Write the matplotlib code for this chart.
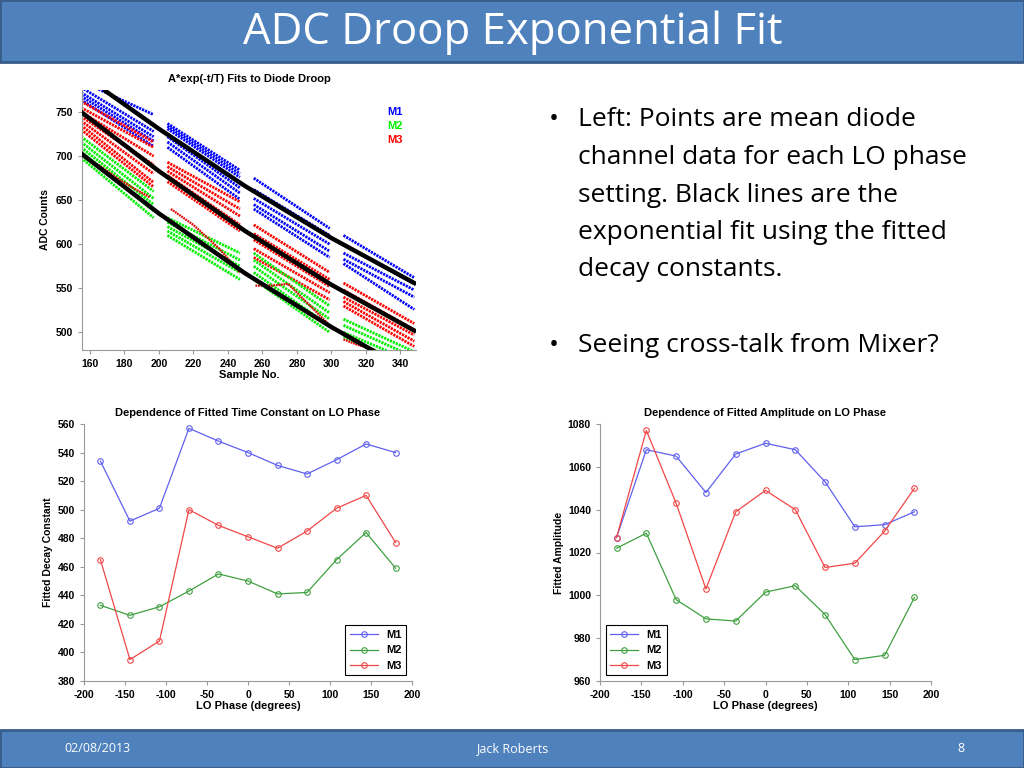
import numpy as np
import matplotlib
matplotlib.use("Agg")
import matplotlib.pyplot as plt
from matplotlib.patches import Rectangle

plt.rcParams["axes.unicode_minus"] = False

W, H = 1024, 768

# ---- top plot: mean diode data per LO phase, four sample blocks ----
block_x = [(155, 197), (205, 247), (255, 299), (307, 348)]

m1_start = [[785, 778, 772, 768, 764],
            [737, 734, 731, 722, 716, 710],
            [675, 662, 652, 645, 640],
            [610, 600, 590, 583, 578]]
m1_end = [[747, 728, 722, 717, 711],
          [684, 680, 676, 664, 658, 651],
          [618, 610, 600, 592, 585],
          [562, 555, 548, 540, 526]]

m2_start = [[722, 716, 710, 705, 698],
            [630, 625, 620, 615, 610],
            [590, 582, 575, 568, 560],
            [515, 508, 500, 495]]
m2_end = [[660, 652, 645, 638, 630],
          [590, 582, 575, 568, 560],
          [530, 522, 515, 507, 500],
          [478, 472, 466, 460]]

m3_start = [[762, 755, 750, 745, 740, 735, 730],
            [693, 688, 683, 678, 671],
            [622, 612, 605, 595, 585],
            [556, 548, 540, 535, 530]]
m3_end = [[716, 710, 700, 690, 680, 670, 665],
          [648, 640, 632, 622, 615],
          [568, 560, 552, 545, 537],
          [510, 503, 497, 490, 484]]

# the low M3 traces that sit among the M2 points
m3_low_x = [[165, 175, 185, 195], [207, 220, 235, 247], [256, 265, 275, 298], [307, 315, 325]]
m3_low_y = [[690, 676, 664, 653], [640, 622, 595, 568], [553, 553, 555, 510], [492, 486, 480]]

# fitted exponential curves
fit_x = [[169, 200, 250, 300, 348], [155, 200, 250, 300, 348], [155, 200, 250, 300, 348]]
fit_y = [[774, 731, 666, 607, 556], [750, 683, 615, 554, 502], [703, 635, 567, 506, 453]]

# ---- bottom plots ----
phase = [-180, -144, -108, -72, -36, 0, 36, 72, 108, 144, 180]
tau_m1 = [534, 492, 501, 557, 548, 540, 531, 525, 535, 546, 540]
tau_m2 = [433, 426, 432, 443, 455, 450, 441, 442, 465, 484, 459]
tau_m3 = [465, 395, 408, 500, 489, 481, 473, 485, 501, 510, 477]
amp_m1 = [1027, 1068, 1065, 1048, 1066, 1071, 1068, 1053, 1032, 1033, 1039]
amp_m2 = [1022, 1029, 998, 989, 988, 1001.5, 1004.5, 991, 970, 972, 999]
amp_m3 = [1027, 1077, 1043, 1003, 1039, 1049, 1040, 1013, 1015, 1030, 1050]

BLUE, GREEN, RED = "#0000ff", "#00ee00", "#ff0000"
LBLUE, LGREEN, LRED = "#6060f0", "#40a040", "#f04848"
mfont = "Liberation Sans"


def rect(l, t, r, b):
    return [l / W, 1 - b / H, (r - l) / W, (b - t) / H]


fig = plt.figure(figsize=(W / 100, H / 100), dpi=100)
fig.patch.set_facecolor("white")

# title bar and footer
fig.patches.append(Rectangle((0, 1 - 62 / H), 1, 62 / H, transform=fig.transFigure,
                             facecolor="#4f81bd", edgecolor="#385d8a", linewidth=2))
fig.patches.append(Rectangle((0, 0), 1, 38 / H, transform=fig.transFigure,
                             facecolor="#4f81bd", edgecolor="#385d8a", linewidth=2))
fig.text(513 / W, 1 - 33 / H, "ADC Droop Exponential Fit", color="white", ha="center",
         va="center", fontsize=31.5, family="Open Sans")
fig.text(97 / W, 19 / H, "02/08/2013", color="white", ha="center", va="center",
         fontsize=9, family="Open Sans")
fig.text(512 / W, 19 / H, "Jack Roberts", color="white", ha="center", va="center",
         fontsize=9, family="Open Sans")
fig.text(961 / W, 19 / H, "8", color="white", ha="center", va="center",
         fontsize=9, family="Open Sans")

# bullets
bullet_kw = dict(fontsize=19, family="Open Sans", color="black", va="center")
lines = ["Left: Points are mean diode", "channel data for each LO phase",
         "setting. Black lines are the", "exponential fit using the fitted",
         "decay constants."]
fig.text(549 / W, 1 - 120 / H, "\u2022", **bullet_kw)
for i, s in enumerate(lines):
    fig.text(578 / W, 1 - (120 + 37.5 * i) / H, s, **bullet_kw)
fig.text(549 / W, 1 - 345 / H, "\u2022", **bullet_kw)
fig.text(578 / W, 1 - 345 / H, "Seeing cross-talk from Mixer?", **bullet_kw)


def style(ax):
    for s in ["top", "right"]:
        ax.spines[s].set_visible(False)
    for s in ["left", "bottom"]:
        ax.spines[s].set_color("#999999")
    ax.tick_params(colors="#999999", labelcolor="black", length=3, width=0.8)
    for lab in ax.get_xticklabels() + ax.get_yticklabels():
        lab.set_fontweight("bold")
        lab.set_fontsize(7.5)
        lab.set_family(mfont)


# ---- top scatter plot ----
ax = fig.add_axes(rect(82, 90, 416, 350))
for col, st, en in [(BLUE, m1_start, m1_end), (RED, m3_start, m3_end), (GREEN, m2_start, m2_end)]:
    for (x0, x1), s_list, e_list in zip(block_x, st, en):
        for s, e in zip(s_list, e_list):
            ax.plot([x0, x1], [s, e], color=col, lw=2.0, ls=(0, (0.8, 0.35)), zorder=2)
for xs, ys in zip(m3_low_x, m3_low_y):
    ax.plot(xs, ys, color="#e00000", lw=1.6, ls=(0, (0.8, 0.35)), zorder=3)
for xs, ys in zip(fit_x, fit_y):
    ax.plot(xs, ys, color="black", lw=3.2, zorder=4)
ax.set_xlim(155.5, 349)
ax.set_ylim(480, 775)
ax.set_xticks(range(160, 341, 20))
ax.set_yticks(range(500, 751, 50))
style(ax)
ax.set_title("A*exp(-t/T) Fits to Diode Droop", fontsize=8, fontweight="bold",
             family=mfont, pad=6)
ax.set_xlabel("Sample No.", fontsize=8, fontweight="bold", family=mfont, labelpad=1)
ax.set_ylabel("ADC Counts", fontsize=7.5, fontweight="bold", family=mfont, labelpad=4)
for i, (lab, col) in enumerate([("M1", BLUE), ("M2", GREEN), ("M3", RED)]):
    ax.text(0.915, 0.915 - i * 0.054, lab, color=col, transform=ax.transAxes,
            fontsize=8, fontweight="bold", family=mfont, va="center")


def phase_plot(box, m1, m2, m3, ylim, yticks, title, ylabel, loc):
    a = fig.add_axes(rect(*box))
    a.plot(phase, m1, color=LBLUE, lw=0.9, marker="o", ms=4, mfc="none", mew=0.8, label="M1")
    a.plot(phase, m2, color=LGREEN, lw=0.9, marker="o", ms=4, mfc="none", mew=0.8, label="M2")
    a.plot(phase, m3, color=LRED, lw=0.9, marker="o", ms=4, mfc="none", mew=0.8, label="M3")
    a.set_xlim(-200, 200)
    a.set_ylim(*ylim)
    a.set_xticks(range(-200, 201, 50))
    a.set_yticks(yticks)
    style(a)
    a.set_title(title, fontsize=8, fontweight="bold", family=mfont, pad=6)
    a.set_xlabel("LO Phase (degrees)", fontsize=8, fontweight="bold", family=mfont, labelpad=1)
    a.set_ylabel(ylabel, fontsize=7.5, fontweight="bold", family=mfont, labelpad=3)
    leg = a.legend(loc=loc, prop={"family": mfont, "weight": "bold", "size": 8},
                   fancybox=False, framealpha=1, edgecolor="black", handlelength=2.5,
                   borderpad=0.4, labelspacing=0.5)
    leg.get_frame().set_linewidth(0.8)
    return a


phase_plot((84, 424, 412, 681), tau_m1, tau_m2, tau_m3, (380, 560), range(380, 561, 20),
           "Dependence of Fitted Time Constant on LO Phase", "Fitted Decay Constant",
           "lower right")
phase_plot((600, 424, 931, 681), amp_m1, amp_m2, amp_m3, (960, 1080), range(960, 1081, 20),
           "Dependence of Fitted Amplitude on LO Phase", "Fitted Amplitude",
           "lower left")

fig.savefig("out.png", dpi=100)
